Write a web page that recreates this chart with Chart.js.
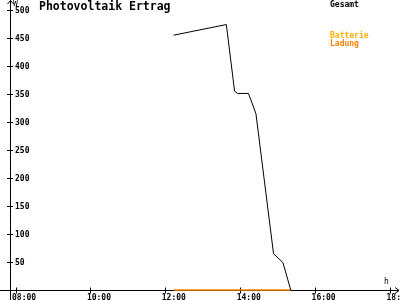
<!DOCTYPE html>
<html>
<head>
<meta charset="utf-8">
<script src="https://cdn.jsdelivr.net/npm/chart.js@4/dist/chart.umd.min.js"></script>
<style>
html,body{margin:0;padding:0;background:#ffffff;}
#wrap{width:400px;height:300px;position:relative;}
</style>
</head>
<body>
<div id="wrap"><canvas id="c" width="400" height="300"></canvas></div>
<script>
// time of day in hours (decimal)
const times = [12.22, 13.63, 13.85, 13.93, 14.22, 14.42, 14.89, 15.14, 15.35];
// "Gesamt" power in W
const gesamt = [455, 474, 355, 351, 351, 315, 65, 49, 0];
// "Batterie Ladung" power in W
const ladungTimes = [12.22, 15.35];
const ladung = [0, 0];
// axis ticks
const xTicks = [8, 10, 12, 14, 16, 18];
const xTickLabels = ['08:00', '10:00', '12:00', '14:00', '16:00', '18:00'];
const yTicks = [50, 100, 150, 200, 250, 300, 350, 400, 450, 500];
const title = 'Photovoltaik Ertrag';

const gesamtPts = times.map((t, i) => ({x: t, y: gesamt[i]}));
const ladungPts = ladungTimes.map((t, i) => ({x: t, y: ladung[i]}));

const axesPlugin = {
  id: 'axesPlugin',
  beforeDatasetsDraw(chart) {
    const ctx = chart.ctx;
    const xs = chart.scales.x, ys = chart.scales.y;
    const x0 = 10, y0 = ys.getPixelForValue(0);
    ctx.save();
    ctx.strokeStyle = '#000';
    ctx.fillStyle = '#000';
    ctx.lineWidth = 1;
    ctx.beginPath();
    // y axis
    ctx.moveTo(x0 + 0.5, 0);
    ctx.lineTo(x0 + 0.5, 300);
    // arrow y
    ctx.moveTo(x0 - 3 + 0.5, 4);
    ctx.lineTo(x0 + 0.5, 0.5);
    ctx.lineTo(x0 + 3 + 0.5, 4);
    // x axis
    const yy = Math.round(y0) + 0.5;
    ctx.moveTo(0, yy);
    ctx.lineTo(399, yy);
    ctx.moveTo(395, yy - 3);
    ctx.lineTo(399, yy);
    ctx.lineTo(395, yy + 3);
    // y ticks
    yTicks.forEach(v => {
      const p = Math.round(ys.getPixelForValue(v)) + 0.5;
      ctx.moveTo(x0 - 3, p);
      ctx.lineTo(x0 + 3, p);
    });
    // x ticks
    xTicks.forEach(v => {
      const p = Math.round(xs.getPixelForValue(v)) + 0.5;
      ctx.moveTo(p, yy - 3);
      ctx.lineTo(p, yy + 3);
    });
    ctx.stroke();

    // tick labels
    ctx.font = 'bold 8px "DejaVu Sans Mono"';
    ctx.textBaseline = 'middle';
    ctx.textAlign = 'left';
    yTicks.forEach(v => {
      const p = ys.getPixelForValue(v);
      ctx.fillText(String(v), 15, p + 1);
    });
    ctx.textBaseline = 'top';
    xTicks.forEach((v, i) => {
      const p = xs.getPixelForValue(v);
      ctx.fillText(xTickLabels[i], p - 3.5, yy + 3.5);
    });
    // unit labels
    ctx.font = '8px "DejaVu Sans Mono"';
    ctx.fillText('W', 13, 0);
    ctx.fillText('h', 384, 278);

    // title
    ctx.font = 'bold 11.5px "DejaVu Sans Mono"';
    ctx.textBaseline = 'top';
    ctx.fillText(title, 39, 1);

    // legend
    ctx.font = 'bold 8px "DejaVu Sans Mono"';
    ctx.fillStyle = '#000';
    ctx.fillText('Gesamt', 330, 1);
    ctx.fillStyle = '#FFB000';
    ctx.fillText('Batterie', 330, 32);
    ctx.fillStyle = '#FF8000';
    ctx.fillText('Ladung', 330, 40);
    ctx.restore();
  }
};

new Chart(document.getElementById('c'), {
  type: 'line',
  data: {
    datasets: [
      {
        label: 'Gesamt',
        data: gesamtPts,
        borderColor: '#000000',
        borderWidth: 1,
        pointRadius: 0,
        tension: 0,
        fill: false,
        clip: false
      },
      {
        label: 'Batterie Ladung',
        data: ladungPts,
        borderColor: '#FF8000',
        borderWidth: 1.5,
        pointRadius: 0,
        tension: 0,
        fill: false,
        clip: false
      }
    ]
  },
  options: {
    responsive: false,
    animation: false,
    devicePixelRatio: 1,
    layout: {padding: {left: 15.5, right: 10, top: 10, bottom: 10}},
    scales: {
      x: {type: 'linear', min: 8, max: 18, display: false},
      y: {type: 'linear', min: 0, max: 500, display: false}
    },
    plugins: {
      legend: {display: false},
      tooltip: {enabled: false}
    }
  },
  plugins: [axesPlugin]
});
</script>
</body>
</html>
